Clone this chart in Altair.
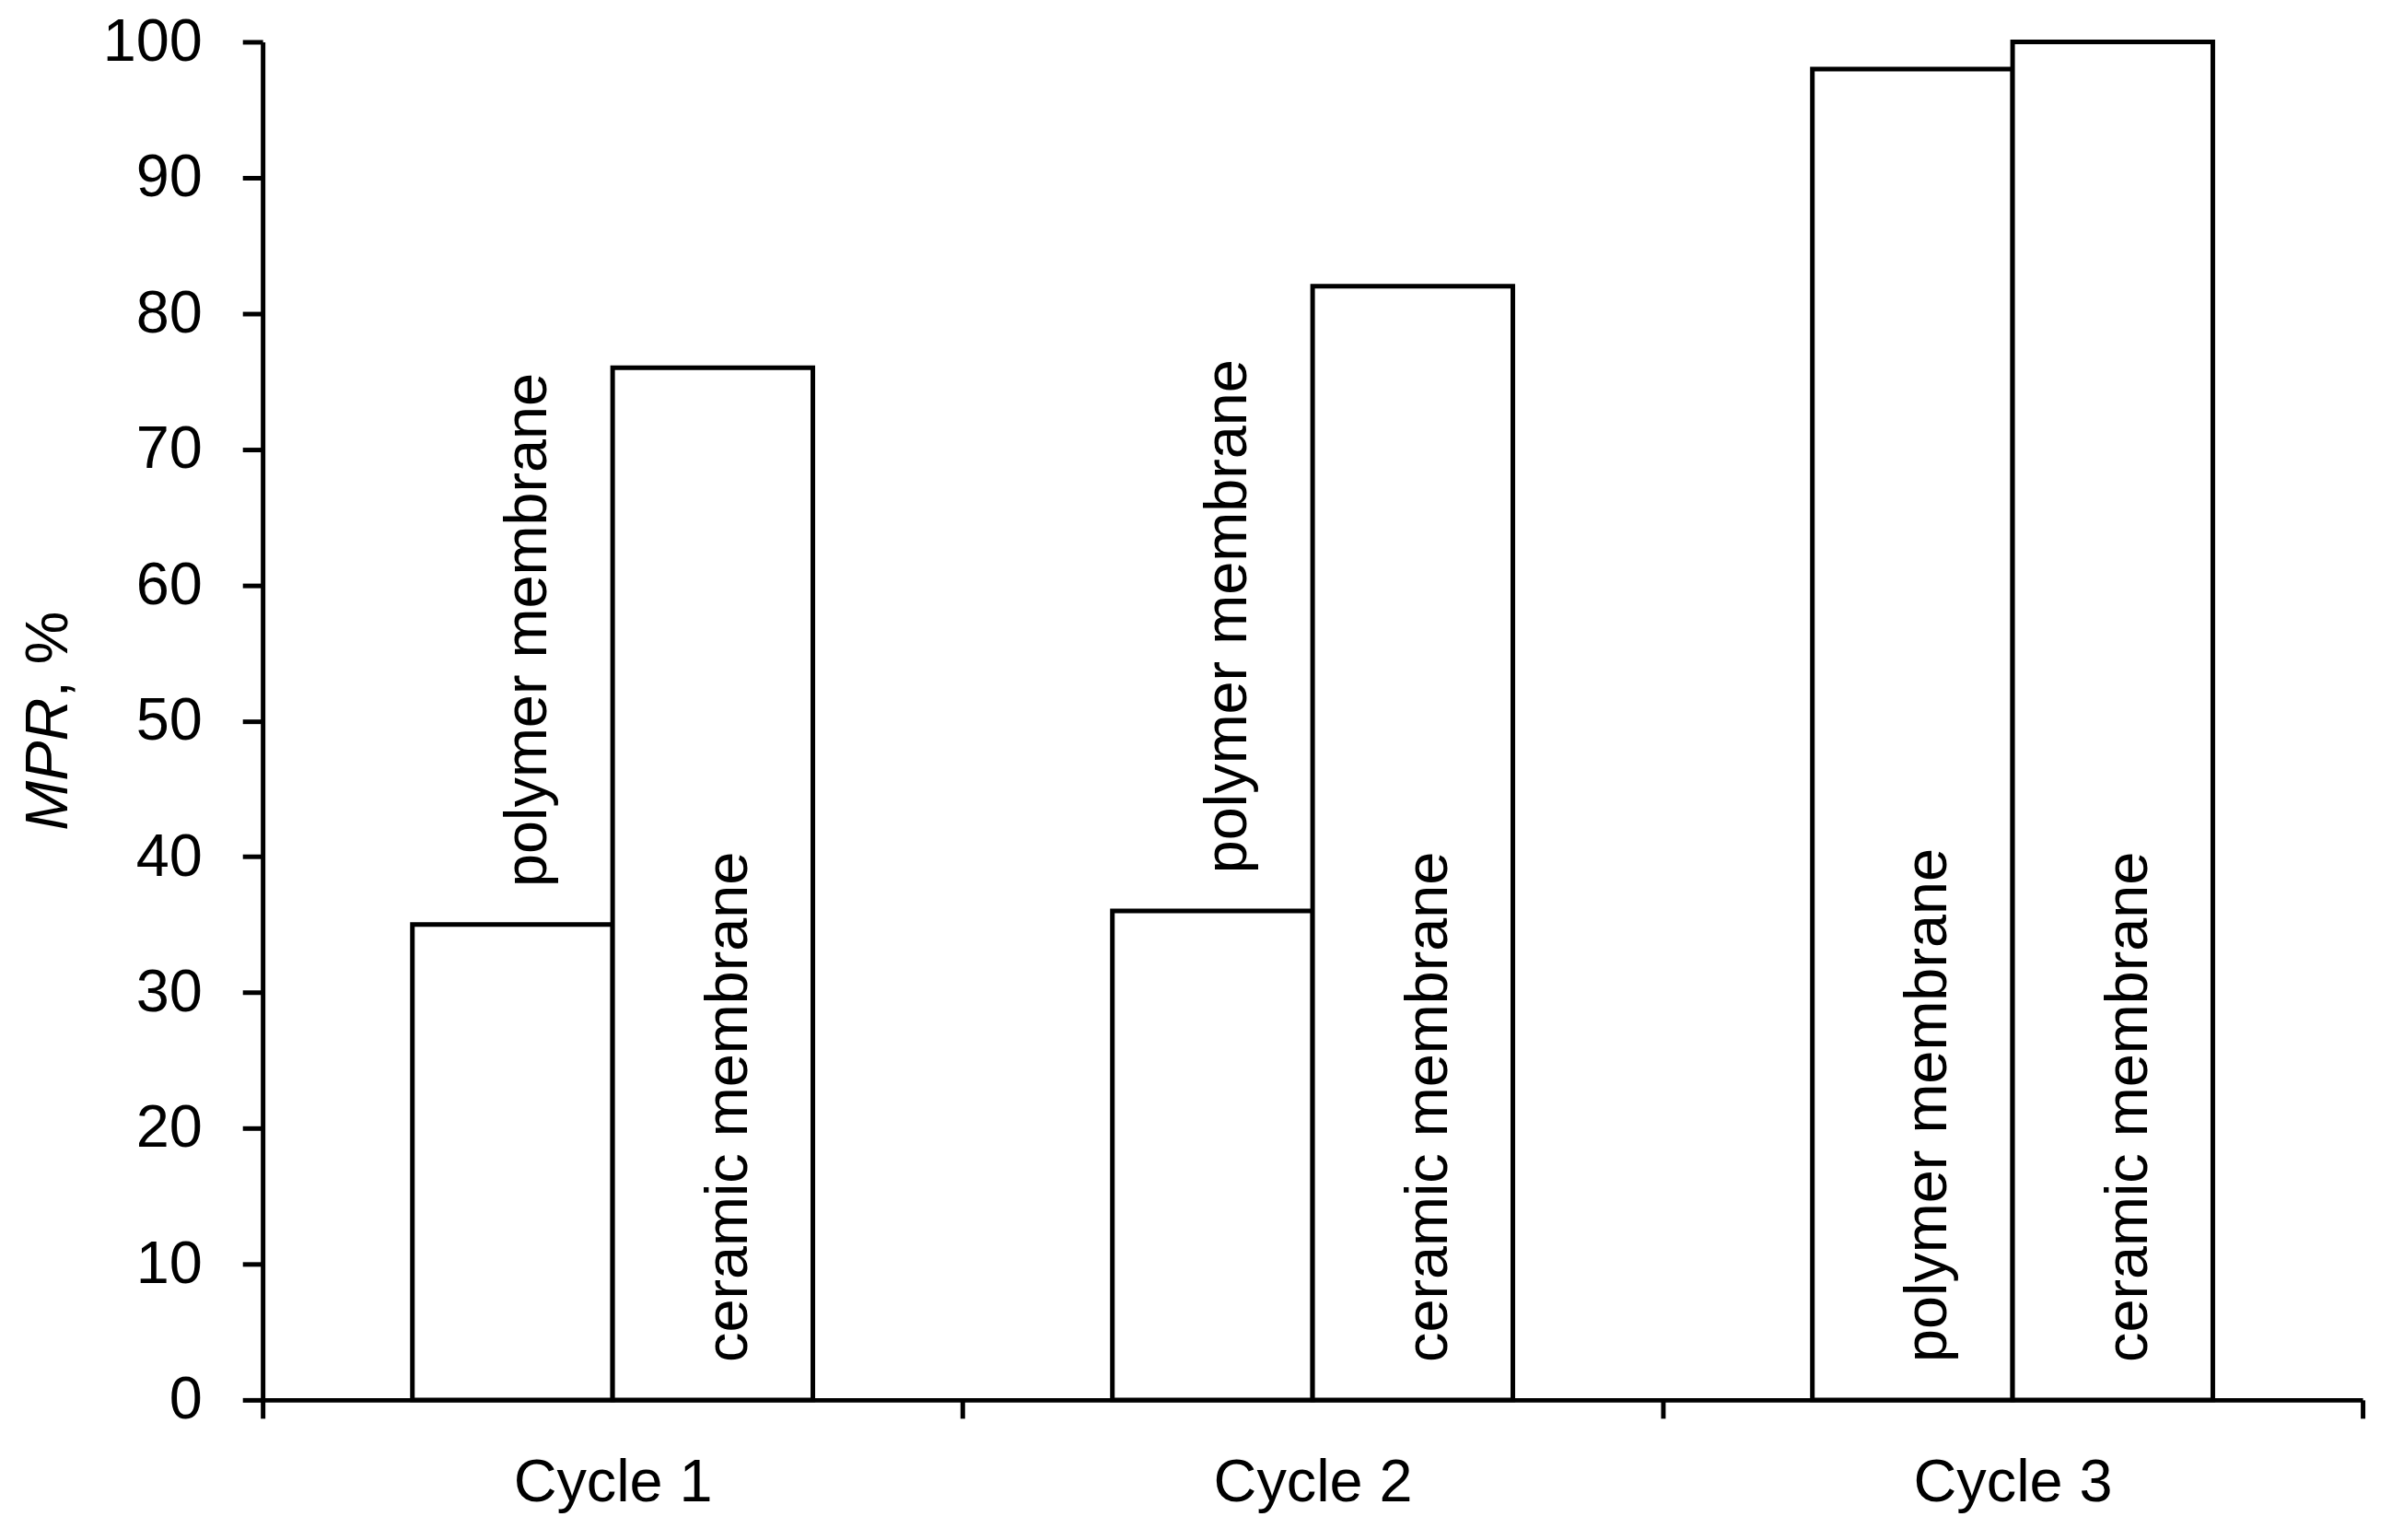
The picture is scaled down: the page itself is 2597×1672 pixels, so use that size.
import pandas as pd
import altair as alt

cycles = ["Cycle 1", "Cycle 2", "Cycle 3"]
membranes = ["polymer membrane", "ceramic membrane"]
polymer_mpr = [35, 36, 98]
ceramic_mpr = [76, 82, 100]
# label sits above the bar (True) or inside it from the floor (False)
polymer_label_above = [True, True, False]
ceramic_label_above = [False, False, False]

FONT = "Liberation Sans"

rows = []
for i, c in enumerate(cycles):
    rows.append({"cycle": c, "membrane": membranes[0], "mpr": polymer_mpr[i], "above": polymer_label_above[i]})
    rows.append({"cycle": c, "membrane": membranes[1], "mpr": ceramic_mpr[i], "above": ceramic_label_above[i]})
df = pd.DataFrame(rows)
df["label_base"] = df["mpr"].where(df["above"], 0)

x_enc = alt.X("cycle:N", sort=cycles, title=None,
              scale=alt.Scale(paddingInner=0, paddingOuter=0),
              axis=alt.Axis(labelAngle=0, tickBand="extent", tickSize=20, labelPadding=39, labelLimit=0))
xoff_enc = alt.XOffset("membrane:N", sort=membranes,
                       scale=alt.Scale(paddingInner=0, paddingOuter=0.748))
y_axis = alt.Axis(values=list(range(0, 101, 10)), tickSize=22, labelPadding=44,
                  titleFontStyle="italic", titleFontWeight="normal",
                  titleFont=FONT, titleFontSize=65, titleColor="black",
                  titleAngle=270, titleAlign="right", titleBaseline="alphabetic",
                  titleX=-213, titleY=714)
y_scale = alt.Scale(domain=[0, 100], nice=False)

base = alt.Chart(df)

bars = base.mark_bar(fill="white", stroke="black", strokeWidth=5).encode(
    x=x_enc,
    xOffset=xoff_enc,
    y=alt.Y("mpr:Q", scale=y_scale, axis=y_axis, title="MPR"),
)

labels = base.mark_text(angle=270, align="left", baseline="alphabetic",
                        dx=41, dy=37, font=FONT, fontSize=65, color="black").encode(
    x=x_enc,
    xOffset=xoff_enc,
    y=alt.Y("label_base:Q", scale=y_scale, axis=y_axis, title="MPR"),
    text="membrane:N",
)

title_tail = alt.Chart(pd.DataFrame({"t": [", %"]})).mark_text(
    angle=270, align="left", baseline="alphabetic",
    font=FONT, fontSize=65, color="black").encode(
    x=alt.value(-213), y=alt.value(714), text="t:N")

chart = alt.layer(bars, labels, title_tail).properties(
    width=2287, height=1479,
    autosize=alt.AutoSizeParams(type="none"),
    padding={"left": 278, "top": 35, "right": 24, "bottom": 140},
    background="white",
).configure_view(stroke=None).configure_axis(
    grid=False,
    domainColor="black", domainWidth=5,
    tickColor="black", tickWidth=5,
    labelFont=FONT, labelFontSize=65, labelColor="black",
)

chart.save("out.html", embed_options={"renderer": "svg", "actions": False})
